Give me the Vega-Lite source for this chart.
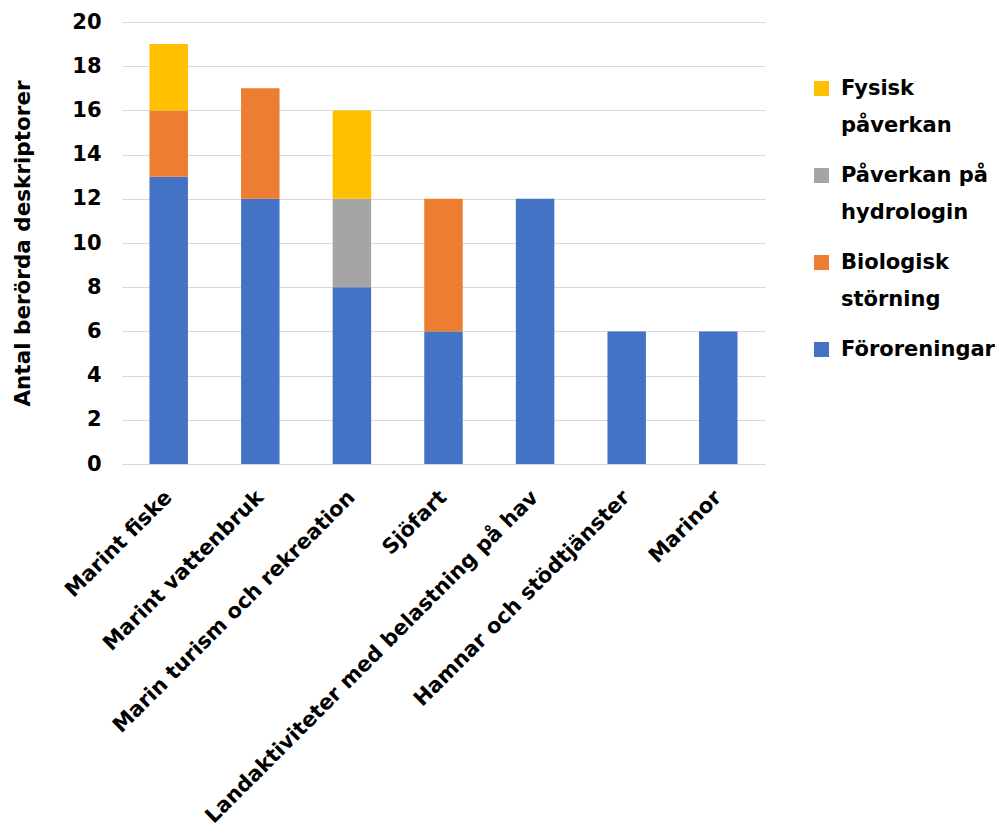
{
  "$schema": "https://vega.github.io/schema/vega-lite/v6.json",
  "width": 643,
  "height": 442,
  "autosize": "none",
  "padding": {"left": 122, "top": 22, "right": 234, "bottom": 374},
  "background": "white",
  "data": {
    "values": [
      {"cat": "Marint fiske", "typ": "Föroreningar", "o": 1, "v": 13},
      {"cat": "Marint fiske", "typ": "Biologisk störning", "o": 2, "v": 3},
      {"cat": "Marint fiske", "typ": "Fysisk påverkan", "o": 4, "v": 3},
      {"cat": "Marint vattenbruk", "typ": "Föroreningar", "o": 1, "v": 12},
      {"cat": "Marint vattenbruk", "typ": "Biologisk störning", "o": 2, "v": 5},
      {"cat": "Marin turism och rekreation", "typ": "Föroreningar", "o": 1, "v": 8},
      {"cat": "Marin turism och rekreation", "typ": "Påverkan på hydrologin", "o": 3, "v": 4},
      {"cat": "Marin turism och rekreation", "typ": "Fysisk påverkan", "o": 4, "v": 4},
      {"cat": "Sjöfart", "typ": "Föroreningar", "o": 1, "v": 6},
      {"cat": "Sjöfart", "typ": "Biologisk störning", "o": 2, "v": 6},
      {"cat": "Landaktiviteter med belastning på hav", "typ": "Föroreningar", "o": 1, "v": 12},
      {"cat": "Hamnar och stödtjänster", "typ": "Föroreningar", "o": 1, "v": 6},
      {"cat": "Marinor", "typ": "Föroreningar", "o": 1, "v": 6}
    ]
  },
  "mark": {"type": "bar"},
  "encoding": {
    "x": {
      "field": "cat",
      "type": "nominal",
      "sort": null,
      "title": null,
      "scale": {"paddingInner": 0.58, "paddingOuter": 0.3},
      "axis": {
        "labelAngle": -45,
        "labelAlign": "right",
        "labelBaseline": "middle",
        "labelPadding": 30,
        "ticks": false,
        "domainColor": "#D9D9D9",
        "labelFont": "DejaVu Sans",
        "labelFontWeight": "bold",
        "labelFontSize": 21,
        "labelColor": "#000000",
        "labelLimit": 600
      }
    },
    "y": {
      "field": "v",
      "type": "quantitative",
      "stack": "zero",
      "scale": {"domain": [0, 20], "nice": false},
      "title": "Antal berörda deskriptorer",
      "axis": {
        "values": [0, 2, 4, 6, 8, 10, 12, 14, 16, 18, 20],
        "domain": false,
        "ticks": false,
        "gridColor": "#D9D9D9",
        "labelPadding": 21,
        "labelFont": "DejaVu Sans",
        "labelFontWeight": "bold",
        "labelFontSize": 21,
        "labelColor": "#000000",
        "titleFont": "DejaVu Sans",
        "titleFontWeight": "bold",
        "titleFontSize": 21.5,
        "titleColor": "#000000",
        "titlePadding": 37
      }
    },
    "color": {
      "field": "typ",
      "type": "nominal",
      "scale": {
        "domain": ["Föroreningar", "Biologisk störning", "Påverkan på hydrologin", "Fysisk påverkan"],
        "range": ["#4472C4", "#ED7D31", "#A5A5A5", "#FFC000"]
      },
      "legend": {
        "title": null,
        "orient": "none",
        "legendX": 689,
        "legendY": 56,
        "values": ["Fysisk påverkan", "Påverkan på hydrologin", "Biologisk störning", "Föroreningar"],
        "symbolType": "square",
        "symbolSize": 225,
        "symbolStrokeWidth": 0,
        "labelFont": "DejaVu Sans",
        "labelFontWeight": "bold",
        "labelFontSize": 21,
        "labelColor": "#000000",
        "labelLimit": 300,
        "labelOffset": 9,
        "rowPadding": 28,
        "labelExpr": "datum.label == 'Fysisk påverkan' ? ['Fysisk', 'påverkan'] : datum.label == 'Påverkan på hydrologin' ? ['Påverkan på', 'hydrologin'] : datum.label == 'Biologisk störning' ? ['Biologisk', 'störning'] : datum.label"
      }
    },
    "order": {"field": "o", "type": "quantitative"}
  },
  "config": {
    "view": {"stroke": null},
    "style": {"guide-label": {"lineHeight": 37}}
  }
}
